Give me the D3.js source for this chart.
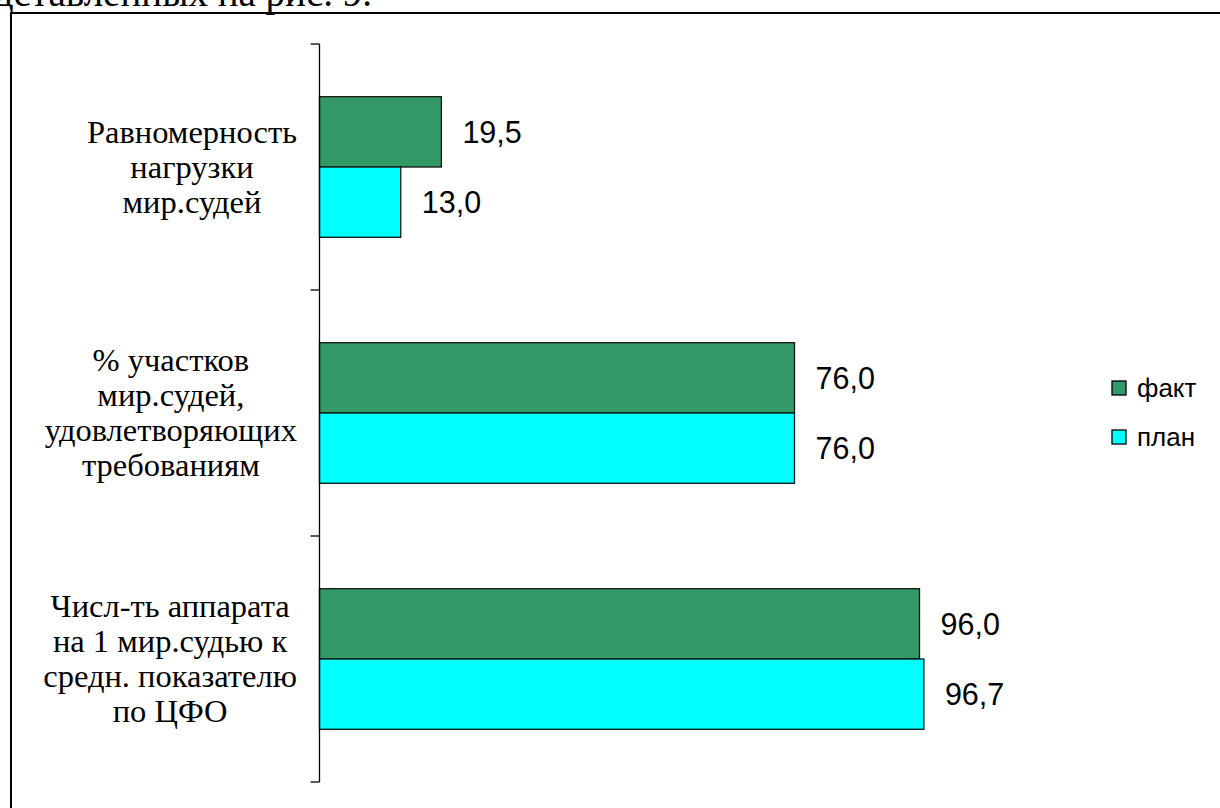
<!DOCTYPE html>
<html>
<head>
<meta charset="utf-8">
<script src="https://cdn.jsdelivr.net/npm/d3@7"></script>
<style>
  html, body { margin: 0; padding: 0; background: #fff; overflow: hidden; }
  svg { display: block; }
  .serif { font-family: "Liberation Serif", "Times New Roman", serif; }
  .sans { font-family: "Liberation Sans", Arial, sans-serif; }
</style>
</head>
<body>
<svg id="chart" width="1220" height="808"></svg>
<script>
// ---- data ----
const categories = [
  "Равномерность\nнагрузки\nмир.судей",
  "% участков\nмир.судей,\nудовлетворяющих\nтребованиям",
  "Числ-ть аппарата\nна 1 мир.судью к\nсредн. показателю\nпо ЦФО"
];
const seriesNames = ["факт", "план"];
const factValues = [19.5, 76.0, 96.0];
const planValues = [13.0, 76.0, 96.7];
const seriesColors = ["#339966", "#00FFFF"];
const headerText = "представленных на рис. 9.";

// ---- layout ----
const svg = d3.select("#chart");
const axisX = 319.5;
const plotTop = 44, plotBottom = 782;

// page header fragment (cut off at top)
svg.append("text")
  .attr("class", "serif")
  .attr("x", 372).attr("y", 6)
  .attr("text-anchor", "end")
  .style("font-size", "39px")
  .text(headerText);

// outer frame
svg.append("rect")
  .attr("x", 11).attr("y", 13)
  .attr("width", 1240).attr("height", 830)
  .attr("fill", "none").attr("stroke", "#000").attr("stroke-width", 2);

const x = d3.scaleLinear().domain([0, 100]).range([axisX, axisX + 625]);
const y0 = d3.scaleBand().domain(categories).range([plotTop, plotBottom]);
const bw = y0.bandwidth();
const y1 = d3.scaleBand().domain(seriesNames)
  .range([bw * 0.75 / 3.5, bw * 2.75 / 3.5]);

const rows = categories.map((c, i) => ({
  cat: c,
  vals: [
    { s: seriesNames[0], v: factValues[i], color: seriesColors[0] },
    { s: seriesNames[1], v: planValues[i], color: seriesColors[1] }
  ]
}));

const fmt = v => d3.format(".1f")(v).replace(".", ",");

const groups = svg.selectAll("g.cat").data(rows).join("g")
  .attr("class", "cat")
  .attr("transform", d => `translate(0,${y0(d.cat)})`);

groups.selectAll("rect").data(d => d.vals).join("rect")
  .attr("x", x(0))
  .attr("y", d => y1(d.s))
  .attr("width", d => x(d.v) - x(0))
  .attr("height", y1.bandwidth())
  .attr("fill", d => d.color)
  .attr("stroke", "#111")
  .attr("stroke-width", 1.3);

groups.selectAll("text.val").data(d => d.vals).join("text")
  .attr("class", "val sans")
  .attr("x", d => x(d.v) + 21)
  .attr("y", d => y1(d.s) + y1.bandwidth() / 2)
  .attr("dy", "0.36em")
  .style("font-size", "30.5px")
  .text(d => fmt(d.v));

// axis (vertical category axis with ticks at band boundaries)
const axisG = svg.append("g");
axisG.append("line")
  .attr("x1", axisX).attr("x2", axisX)
  .attr("y1", plotTop).attr("y2", plotBottom)
  .attr("stroke", "#000").attr("stroke-width", 1.3);
const tickYs = categories.map(c => y0(c)).concat([y0(categories[categories.length - 1]) + bw]);
axisG.selectAll("line.tick").data(tickYs).join("line")
  .attr("class", "tick")
  .attr("x1", axisX - 9).attr("x2", axisX)
  .attr("y1", d => d).attr("y2", d => d)
  .attr("stroke", "#000").attr("stroke-width", 1.3);

// category labels (wrapped, centered within a right-aligned block)
const lineH = 35;
const labelRight = 297;
rows.forEach(r => {
  const lines = r.cat.split("\n");
  const cy = y0(r.cat) + bw / 2;
  const t = svg.append("text")
    .attr("class", "serif")
    .style("font-size", "32.5px")
    .attr("text-anchor", "middle");
  const spans = lines.map((ln, i) =>
    t.append("tspan")
      .attr("y", cy + (i - (lines.length - 1) / 2) * lineH)
      .attr("dy", "0.33em")
      .text(ln));
  const maxW = d3.max(spans, s => s.node().getComputedTextLength());
  spans.forEach(s => s.attr("x", labelRight - maxW / 2));
});

// legend
const legend = svg.append("g");
seriesNames.forEach((s, i) => {
  const ly = 388 + i * 49;
  legend.append("rect")
    .attr("x", 1112).attr("y", ly - 7)
    .attr("width", 14).attr("height", 14)
    .attr("fill", seriesColors[i])
    .attr("stroke", "#000").attr("stroke-width", 1.3);
  legend.append("text")
    .attr("class", "sans")
    .attr("x", 1137).attr("y", ly)
    .attr("dy", "0.36em")
    .style("font-size", "26px")
    .text(s);
});
</script>
</body>
</html>
